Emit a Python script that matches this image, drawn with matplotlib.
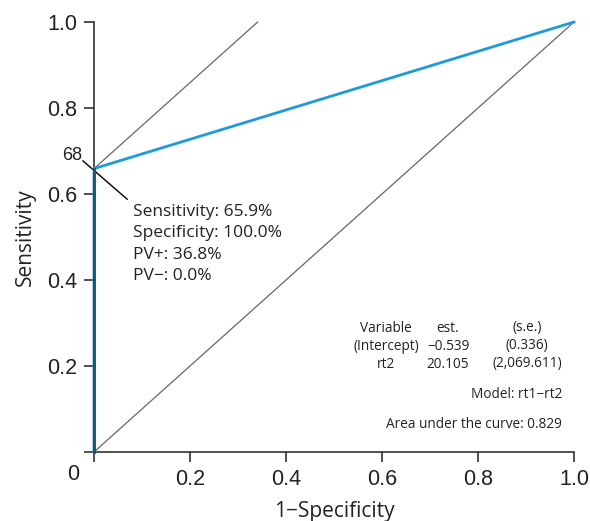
import matplotlib
matplotlib.use("Agg")
import matplotlib.pyplot as plt

# ROC data
roc_fpr = [0.0, 0.0, 1.0]
roc_tpr = [0.0, 0.659, 1.0]
diag_x = [0.0, 1.0]
diag_y = [0.0, 1.0]
iso_x = [0.0, 0.341]
iso_y = [0.659, 1.0]
cut_label = "68"
info_lines = ["Sensitivity: 65.9%", "Specificity: 100.0%", "PV+: 36.8%", "PV\u2212: 0.0%"]
table_cols = [["Variable", "(Intercept)", "rt2"],
              ["est.", "\u22120.539", "20.105"],
              ["(s.e.)", "(0.336)", "(2,069.611)"]]
model_text = "Model: rt1\u2212rt2"
auc_text = "Area under the curve: 0.829"
xticks = [0.2, 0.4, 0.6, 0.8, 1.0]
yticks = [0.2, 0.4, 0.6, 0.8, 1.0]

tf = "Open Sans"
fig = plt.figure(figsize=(5.9, 5.21), dpi=100)
W, H = 590, 521
x0px, x1px = 94, 574
y0px, y1px = 452, 22
ax = fig.add_axes([x0px / W, 1 - y0px / H, (x1px - x0px) / W, (y0px - y1px) / H])
ax.set_xlim(0, 1.0)
ax.set_ylim(0, 1.0)

sc = "#333333"
for s in ["top", "right"]:
    ax.spines[s].set_visible(False)
for s in ["left", "bottom"]:
    ax.spines[s].set_color(sc)
    ax.spines[s].set_linewidth(1.2)

ax.plot(diag_x, diag_y, color="#666666", lw=0.9, clip_on=False)
ax.plot(iso_x, iso_y, color="#666666", lw=0.9, clip_on=False)
ax.plot(roc_fpr, roc_tpr, color="#1f9ad8", lw=2.0, clip_on=False, zorder=3)
ax.plot([0, 0], [0, 0.659], color="#1a4f6e", lw=2.0, clip_on=False, zorder=4)

ax.set_xticks([0.0] + xticks)
ax.set_xticklabels([""] + [f"{v:.1f}" for v in xticks])
ax.set_yticks([0.0] + yticks)
ax.set_yticklabels([""] + [f"{v:.1f}" for v in yticks])
ax.tick_params(axis="both", length=7, width=1.2, color=sc, labelsize=15.5,
               labelcolor="#222222", pad=5)
for t in ax.get_xticklabels() + ax.get_yticklabels():
    t.set_family("Liberation Sans")
fig.text(73 / W, 1 - 475 / H, "0", ha="center", va="center", fontsize=15.5,
         family="Liberation Sans", color="#222222")

ax.set_xlabel("1\u2212Specificity", fontsize=15, family=tf, color="#222222", labelpad=8)
ax.set_ylabel("Sensitivity", fontsize=15, family=tf, color="#222222", labelpad=8)

# cutoff annotation
ax.plot([-0.023, 0.069], [0.677, 0.588], color="black", lw=1.0, clip_on=False)
ax.text(-0.025, 0.69, cut_label, ha="right", va="center", fontsize=13,
        family="Liberation Sans", color="#222222")
for i, line in enumerate(info_lines):
    ax.text(0.081, 0.559 - i * 0.05, line, ha="left", va="center",
            fontsize=12.5, family=tf, color="#222222")

# model table
col_x = [(386 - 94) / 480, (448 - 94) / 480, (527 - 94) / 480]
row_y = [(452 - 328) / 430, (452 - 346) / 430, (452 - 364) / 430]
for cx, col in zip(col_x, table_cols):
    for ry, txt in zip(row_y, col):
        ax.text(cx, ry, txt, ha="center", va="center", fontsize=9.8,
                family=tf, color="#222222")
ax.text((562 - 94) / 480, (452 - 395) / 430, model_text, ha="right", va="center",
        fontsize=9.8, family=tf, color="#222222")
ax.text((562 - 94) / 480, (452 - 425) / 430, auc_text, ha="right", va="center",
        fontsize=9.8, family=tf, color="#222222")

fig.savefig("out.png", dpi=100)
